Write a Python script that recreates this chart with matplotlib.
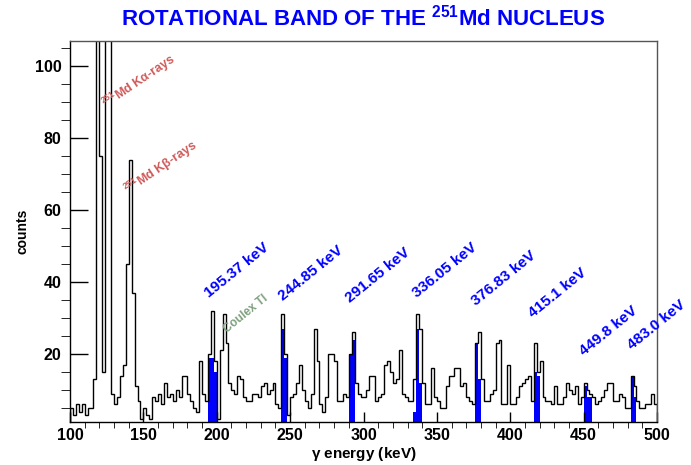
import matplotlib.pyplot as plt
import numpy as np

# gamma spectrum, 2 keV bins from 100 to 500 keV
e_lo = 100
bin_w = 2
counts = [5, 3, 6, 4, 6, 3, 5, 5, 13, 115,
          75, 15, 115, 115, 9, 6, 8, 14, 17, 45,
          74, 37, 11, 7, 2, 5, 3, 2, 8, 7,
          9, 6, 12, 8, 9, 7, 10, 8, 14, 14,
          9, 7, 5, 4, 18, 9, 7, 20, 32, 18,
          2, 21, 31, 23, 12, 10, 9, 14, 13, 8,
          7, 7, 9, 9, 8, 11, 12, 9, 10, 12,
          6, 5, 31, 20, 3, 8, 9, 12, 17, 10,
          7, 5, 9, 27, 18, 6, 4, 8, 20, 20,
          18, 7, 7, 9, 8, 20, 26, 12, 9, 8,
          8, 10, 14, 14, 7, 8, 9, 17, 18, 15,
          12, 13, 21, 9, 8, 7, 7, 13, 31, 27,
          12, 6, 6, 16, 8, 7, 5, 5, 11, 14,
          14, 16, 16, 11, 12, 8, 7, 6, 23, 26,
          13, 7, 7, 9, 10, 23, 24, 6, 6, 17,
          6, 6, 8, 11, 12, 13, 14, 7, 23, 15,
          18, 8, 7, 7, 6, 11, 6, 6, 8, 12,
          10, 9, 11, 6, 8, 12, 10, 9, 8, 6,
          7, 8, 10, 12, 12, 7, 7, 9, 8, 5,
          5, 14, 11, 7, 5, 5, 6, 6, 9, 6]

# gated (band) bins, filled in blue
gate_start = [194, 196, 198, 244, 246, 290, 292, 334, 336, 338,
              376, 378, 416, 418, 450, 452, 454, 482, 484]
gate_counts = [19, 19, 15, 27, 19, 20, 24, 4, 27, 12,
               23, 13, 15, 14, 11, 8, 8, 14, 8]

# band transitions: label text and anchor (keV, counts)
line_labels = ['195.37 keV', '244.85 keV', '291.65 keV', '336.05 keV',
               '376.83 keV', '415.1 keV', '449.8 keV', '483.0 keV']
label_e = [195.0, 245.0, 291.0, 336.5, 377.0, 415.5, 450.5, 483.0]
label_c = [35.5, 34.7, 34.1, 35.5, 33.3, 29.9, 19.4, 21.1]

edges = e_lo + bin_w*np.arange(len(counts) + 1)

plt.rcParams['font.family'] = ['Liberation Sans', 'DejaVu Sans']
plt.rcParams['font.weight'] = 'bold'
plt.rcParams['mathtext.fontset'] = 'custom'
plt.rcParams['mathtext.rm'] = 'Liberation Sans:bold'
plt.rcParams['mathtext.it'] = 'Liberation Sans:bold'
plt.rcParams['mathtext.bf'] = 'Liberation Sans:bold'

fig = plt.figure(figsize=(6.91, 4.65), dpi=100)
ax = fig.add_axes([0.1013, 0.0925, 0.8495, 0.8193])

ax.bar(gate_start, gate_counts, width=bin_w, align='edge', color='#0000ff', lw=0)
ax.stairs(counts, edges, color='black', lw=1.0)

ax.set_xlim(100, 500)
ax.set_ylim(1.1, 107)
ax.set_xticks(np.arange(100, 501, 50))
ax.set_xticks(np.arange(100, 501, 10), minor=True)
ax.set_yticks([20, 40, 60, 80, 100])
ax.set_yticks(np.arange(5, 106, 5), minor=True)
ax.tick_params(axis='both', direction='in', labelsize=11.5, width=1)
ax.tick_params(axis='y', which='major', length=13, pad=6)
ax.tick_params(axis='y', which='minor', length=6.5)
ax.tick_params(axis='x', which='major', length=7, pad=4)
ax.tick_params(axis='x', which='minor', length=4)
for lab in ax.get_xticklabels() + ax.get_yticklabels():
    lab.set_fontweight('bold')
for s in ax.spines.values():
    s.set_linewidth(1)
    s.set_color('#555555')
ax.spines['left'].set_color('black')
ax.spines['bottom'].set_color('black')

ax.set_xlabel(r'$\gamma$ energy (keV)', fontsize=11, fontweight='bold', labelpad=2)
ax.set_ylabel('counts', fontsize=10, fontweight='bold', labelpad=4)

for txt, e, c in zip(line_labels, label_e, label_c):
    ax.text(e, c, txt, rotation=39, rotation_mode='anchor', color='#0000ff',
            fontsize=11, fontweight='bold', ha='left', va='baseline')

ax.text(124.5, 88.2, r'$^{251}$Md K$\alpha$-rays', rotation=34, rotation_mode='anchor',
        color='#d05a5a', fontsize=9, fontweight='bold', ha='left', va='baseline')
ax.text(140.0, 64.2, r'$^{251}$Md K$\beta$-rays', rotation=34, rotation_mode='anchor',
        color='#d05a5a', fontsize=9, fontweight='bold', ha='left', va='baseline')
ax.text(207.0, 25.7, 'Coulex Tl', rotation=39, rotation_mode='anchor',
        color='#7fa07f', fontsize=8.5, fontweight='bold', ha='left', va='baseline')

fig.text(0.5255, 0.962, r'ROTATIONAL BAND OF THE $^{251}$Md NUCLEUS', color='#0000ff',
         fontsize=16, fontweight='bold', ha='center', va='center')

fig.savefig('out.png', dpi=100)
